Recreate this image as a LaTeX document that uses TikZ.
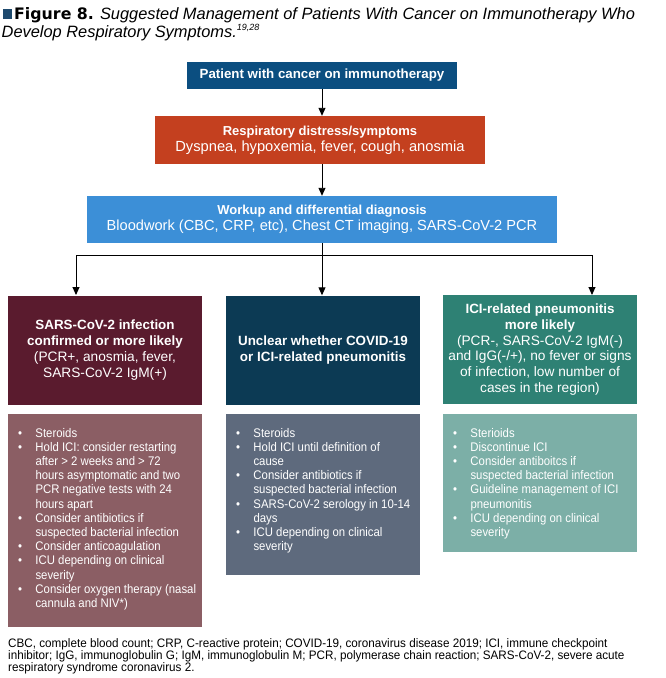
\documentclass[tikz,border=0pt]{standalone}
\usepackage{fontspec}
\setmainfont{Liberation Sans}
\newfontfamily\pnl{Liberation Sans}[FakeStretch=0.91]
\newfontfamily\fnf{Liberation Sans}[FakeStretch=0.95]
\newfontfamily\heavy{DejaVu Sans}
\usetikzlibrary{arrows.meta,calc}
\definecolor{cOne}{HTML}{0B4E80}
\definecolor{cTwo}{HTML}{C4401F}
\definecolor{cThree}{HTML}{3C8FD7}
\definecolor{cA}{HTML}{5A1B2E}
\definecolor{cAp}{HTML}{8B5E64}
\definecolor{cB}{HTML}{0C3A54}
\definecolor{cBp}{HTML}{5E6A7D}
\definecolor{cC}{HTML}{2E8174}
\definecolor{cCp}{HTML}{7CAFA7}
\definecolor{sqc}{HTML}{1E4A6E}
\newcommand{\bul}{\makebox[17.5pt][l]{\textbullet}}
\newcommand{\cnt}{\hspace*{17.5pt}}
\begin{document}
\begin{tikzpicture}[x=1pt,y=-1pt,
  box/.style={inner sep=0pt, text=white, align=center},
  rowbox/.style={box, minimum width=194pt, minimum height=109pt,
    font=\fontsize{13.7}{15.8}\selectfont},
  arr/.style={-{Triangle[length=8pt,width=7pt]}, line width=0.9pt},
  pnltext/.style={inner sep=0pt, text=white, align=left, anchor=north west,
    font=\pnl\fontsize{12.5}{14.2}\selectfont},
  pnlbox/.style={box, minimum width=194pt},
]
\useasboundingbox (0,0) rectangle (666,678);
% title
\node[fill=sqc, minimum width=8.5pt, minimum height=10pt, inner sep=0pt] (sq) at (7.3,13.5) {};
\node[anchor=base west, inner sep=0pt, font=\fontsize{16.4}{16}\selectfont] (t1) at (14,19)
  {{\heavy\bfseries\fontsize{15.8}{16}\selectfont Figure 8.} \textit{Suggested Management of Patients With Cancer on Immunotherapy Who}};
\node[anchor=base west, inner sep=0pt, font=\fontsize{16.4}{16}\selectfont] (t2) at (1.5,37)
  {\textit{Develop Respiratory Symptoms.}\textsuperscript{\textit{\fontsize{9}{9}\selectfont 19,28}}};
% top flow
\node[box, fill=cOne, minimum width=270pt, minimum height=27pt, font=\bfseries\fontsize{13.3}{16}\selectfont] (b1) at (322,75.5)
  {Patient with cancer on immunotherapy};
\node[box, fill=cTwo, minimum width=330pt, minimum height=48pt, font=\fontsize{14.7}{16}\selectfont] (b2) at (320,140)
  {{\bfseries\fontsize{13}{16}\selectfont Respiratory distress/symptoms}\\
   Dyspnea, hypoxemia, fever, cough, anosmia};
\node[box, fill=cThree, minimum width=470pt, minimum height=47pt, font=\fontsize{14.6}{16}\selectfont] (b3) at (322,219.5)
  {{\bfseries\fontsize{13}{16}\selectfont Workup and differential diagnosis}\\
   Bloodwork (CBC, CRP, etc), Chest CT imaging, SARS-CoV-2 PCR};
% second row
\node[rowbox, fill=cA] (A) at (105,350)
  {{\bfseries\fontsize{13.4}{15.8}\selectfont SARS-CoV-2 infection}\\
   {\bfseries\fontsize{13.4}{15.8}\selectfont confirmed or more likely}\\
   (PCR+, anosmia, fever,\\
   SARS-CoV-2 IgM(+)};
\node[rowbox, fill=cB] (B) at (323,350)
  {{\bfseries\fontsize{13.4}{15.8}\selectfont Unclear whether COVID-19}\\
   {\bfseries\fontsize{13.4}{15.8}\selectfont or ICI-related pneumonitis}};
\node[rowbox, fill=cC] (C) at (540,349.5)
  {{\bfseries\fontsize{13.4}{15.8}\selectfont ICI-related pneumonitis}\\
   {\bfseries\fontsize{13.4}{15.8}\selectfont more likely}\\
   (PCR-, SARS-CoV-2 IgM(-)\\
   and IgG(-/+), no fever or signs\\
   of infection, low number of\\
   cases in the region)};
% panels
\node[pnlbox, fill=cAp, minimum height=213pt] (Ap) at (105,520.5) {};
\node[pnlbox, fill=cBp, minimum height=161pt] (Bp) at (323,494.5) {};
\node[pnlbox, fill=cCp, minimum height=138pt] (Cp) at (540,483) {};
\node[pnltext] (Apt) at (Ap.north west) [xshift=10pt, yshift=-14pt]
  {\bul Steroids\\
   \bul Hold ICI: consider restarting\\
   \cnt after > 2 weeks and > 72\\
   \cnt hours asymptomatic and two\\
   \cnt PCR negative tests with 24\\
   \cnt hours apart\\
   \bul Consider antibiotics if\\
   \cnt suspected bacterial infection\\
   \bul Consider anticoagulation\\
   \bul ICU depending on clinical\\
   \cnt severity\\
   \bul Consider oxygen therapy (nasal\\
   \cnt cannula and NIV*)};
\node[pnltext] (Bpt) at (Bp.north west) [xshift=10pt, yshift=-14pt]
  {\bul Steroids\\
   \bul Hold ICI until definition of\\
   \cnt cause\\
   \bul Consider antibiotics if\\
   \cnt suspected bacterial infection\\
   \bul SARS-CoV-2 serology in 10-14\\
   \cnt days\\
   \bul ICU depending on clinical\\
   \cnt severity};
\node[pnltext] (Cpt) at (Cp.north west) [xshift=10pt, yshift=-14pt]
  {\bul Sterioids\\
   \bul Discontinue ICI\\
   \bul Consider antiboitcs if\\
   \cnt suspected bacterial infection\\
   \bul Guideline management of ICI\\
   \cnt pneumonitis\\
   \bul ICU depending on clinical\\
   \cnt severity};
% footnote
\node[anchor=north west, inner sep=0pt, align=left, font=\fnf\fontsize{12.3}{12}\selectfont] (fn) at (8,638.5)
  {CBC, complete blood count; CRP, C-reactive protein; COVID-19, coronavirus disease 2019; ICI, immune checkpoint\\
   inhibitor; IgG, immunoglobulin G; IgM, immunoglobulin M; PCR, polymerase chain reaction; SARS-CoV-2, severe acute\\
   respiratory syndrome coronavirus 2.};
% connectors
\coordinate (j) at (322,255);
\coordinate (aL) at (76,295);
\coordinate (aR) at (592,295);
\draw[arr] (b1) -- (b2.north -| b1.south);
\draw[arr] (b2.south -| b1.south) -- (b3.north -| b1.south);
\draw[line width=0.9pt] (b3.south) -- (j);
\draw[arr] (j) -| (aL);
\draw[arr] (j) -| (aR);
\draw[arr] (j) -- (j |- B.north);
\end{tikzpicture}
\end{document}
